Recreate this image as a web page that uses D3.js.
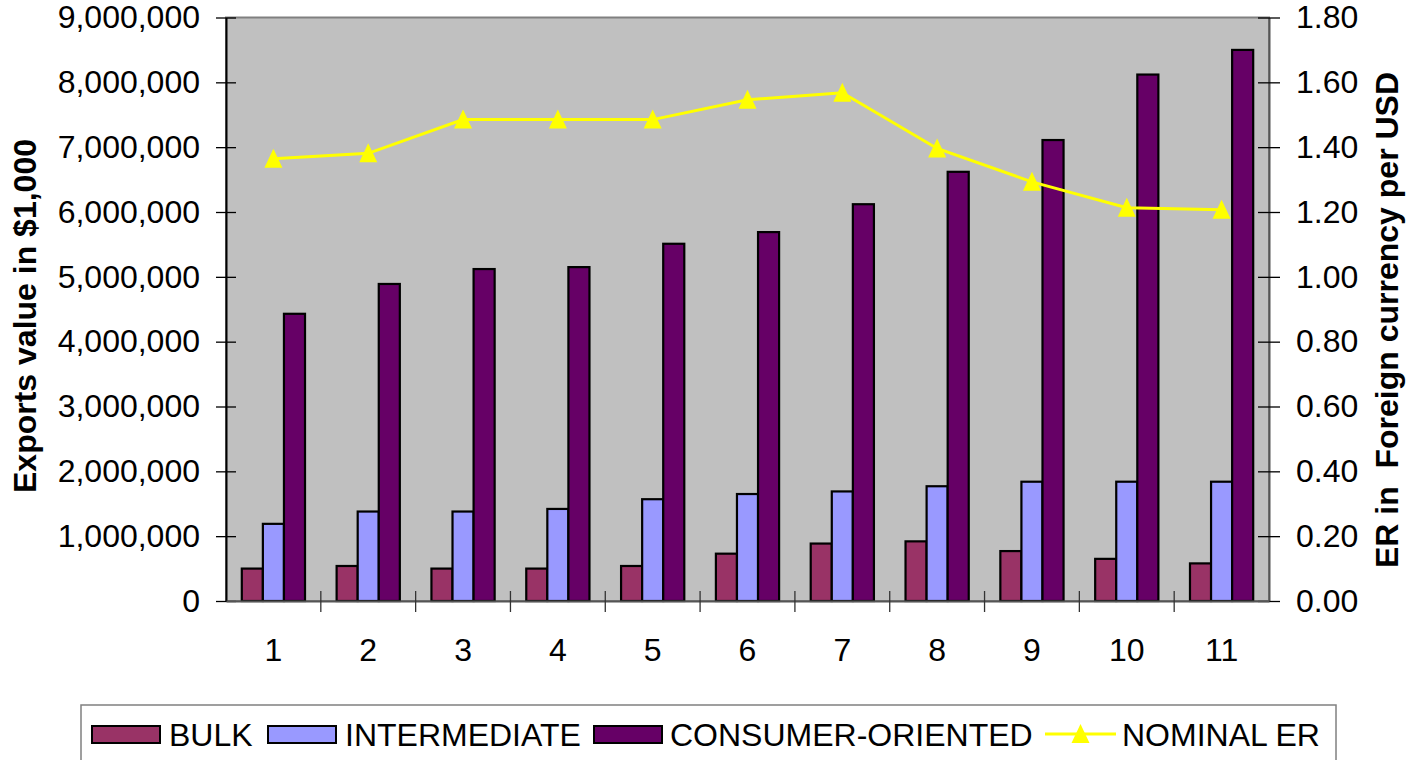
<!DOCTYPE html>
<html>
<head>
<meta charset="utf-8">
<script src="https://cdn.jsdelivr.net/npm/d3@7"></script>
<style>
  html, body { margin: 0; padding: 0; background: #fff; }
  svg { display: block; font-family: "Liberation Sans", Arial, sans-serif; }
</style>
</head>
<body>
<svg id="chart" width="1409" height="760"></svg>
<script>
const categories = ["1","2","3","4","5","6","7","8","9","10","11"];
const bulk = [500000, 540000, 500000, 500000, 540000, 730000, 886000, 920000, 770000, 650000, 580000];
const intermediate = [1190000, 1380000, 1380000, 1420000, 1570000, 1650000, 1690000, 1770000, 1840000, 1840000, 1840000];
const consumer = [4430000, 4890000, 5120000, 5150000, 5510000, 5690000, 6120000, 6620000, 7110000, 8120000, 8500000];
const nominalER = [1.364, 1.381, 1.485, 1.485, 1.485, 1.546, 1.568, 1.396, 1.293, 1.213, 1.207];
const leftTicks = [0, 1000000, 2000000, 3000000, 4000000, 5000000, 6000000, 7000000, 8000000, 9000000];
const rightTicks = [0, 0.2, 0.4, 0.6, 0.8, 1.0, 1.2, 1.4, 1.6, 1.8];
const seriesNames = ["BULK", "INTERMEDIATE", "CONSUMER-ORIENTED"];
const seriesColors = ["#993366", "#9999FF", "#660066"];
const lineName = "NOMINAL ER";
const leftTitle = "Exports value in $1,000";
const rightTitle = "ER in\u00A0 Foreign currency per USD";

const svg = d3.select("#chart");
const plot = { left: 226, top: 17.5, right: 1269, bottom: 601 };

const x = d3.scaleBand().domain(categories).range([plot.left, plot.right]).padding(0);
const xInner = d3.scaleBand().domain(seriesNames).range([0, x.bandwidth()]).paddingInner(0).paddingOuter(0.75);
const yL = d3.scaleLinear().domain([0, 9000000]).range([plot.bottom, plot.top]);
const yR = d3.scaleLinear().domain([0, 1.8]).range([plot.bottom, plot.top]);

// plot area
svg.append("rect")
  .attr("x", plot.left).attr("y", plot.top)
  .attr("width", plot.right - plot.left).attr("height", plot.bottom - plot.top)
  .attr("fill", "#C0C0C0").attr("stroke", "#808080").attr("stroke-width", 2);

// bars
const seriesData = [bulk, intermediate, consumer];
seriesNames.forEach((name, si) => {
  svg.append("g").selectAll("rect")
    .data(seriesData[si])
    .join("rect")
    .attr("x", (d, i) => x(categories[i]) + xInner(name))
    .attr("y", d => yL(d))
    .attr("width", xInner.bandwidth())
    .attr("height", d => yL(0) - yL(d))
    .attr("fill", seriesColors[si])
    .attr("stroke", "#000")
    .attr("stroke-width", 2.2);
});

// axes
const fontSize = 32;
const leftAxis = svg.append("g")
  .attr("transform", `translate(${plot.left},0)`)
  .call(d3.axisLeft(yL).tickValues(leftTicks).tickFormat(d3.format(",")).tickSizeInner(10).tickSizeOuter(0).tickPadding(16));
leftAxis.selectAll(".tick line").attr("x1", 10).attr("stroke", "#000").attr("stroke-width", 1.3);
leftAxis.select(".domain").attr("stroke", "#000").attr("stroke-width", 2);

const rightAxis = svg.append("g")
  .attr("transform", `translate(${plot.right},0)`)
  .call(d3.axisRight(yR).tickValues(rightTicks).tickFormat(d3.format(".2f")).tickSizeInner(11).tickSizeOuter(0).tickPadding(16));
rightAxis.selectAll(".tick line").attr("x1", -11).attr("stroke", "#000").attr("stroke-width", 1.3);
rightAxis.select(".domain").attr("stroke", "#555").attr("stroke-width", 2);

const bottomAxis = svg.append("g")
  .attr("transform", `translate(0,${plot.bottom})`)
  .call(d3.axisBottom(x).tickSizeInner(10).tickSizeOuter(0).tickPadding(27));
bottomAxis.selectAll(".tick line").remove();
bottomAxis.select(".domain").attr("stroke", "#555").attr("stroke-width", 2);
// category separator ticks (crossing)
bottomAxis.append("g").selectAll("line")
  .data(categories.slice(1))
  .join("line")
  .attr("x1", d => x(d)).attr("x2", d => x(d))
  .attr("y1", -10).attr("y2", 11)
  .attr("stroke", "#333").attr("stroke-width", 1.3);

[leftAxis, rightAxis, bottomAxis].forEach(a => {
  a.attr("font-size", null).attr("font-family", null);
  a.selectAll("text").attr("font-size", fontSize).attr("fill", "#000");
});

// axis titles
svg.append("text")
  .attr("transform", `translate(36,316) rotate(-90)`)
  .attr("text-anchor", "middle")
  .attr("font-size", 32).attr("font-weight", "bold")
  .text(leftTitle);
svg.append("text")
  .attr("transform", `translate(1398,320) rotate(-90)`)
  .attr("text-anchor", "middle")
  .attr("font-size", 32).attr("font-weight", "bold")
  .text(rightTitle);

// line series
const line = d3.line()
  .x((d, i) => x(categories[i]) + x.bandwidth() / 2)
  .y(d => yR(d));
svg.append("path")
  .datum(nominalER)
  .attr("d", line)
  .attr("fill", "none")
  .attr("stroke", "#FFFF00")
  .attr("stroke-width", 3);
const tri = (cx, cy, s) => `M${cx},${cy - s / 2 - 1}L${cx + s / 2},${cy + s / 2}L${cx - s / 2},${cy + s / 2}Z`;
svg.append("g").selectAll("path")
  .data(nominalER)
  .join("path")
  .attr("d", (d, i) => tri(x(categories[i]) + x.bandwidth() / 2, yR(d), 18))
  .attr("fill", "#FFFF00");

// legend
const legend = svg.append("g");
legend.append("rect")
  .attr("x", 81).attr("y", 705).attr("width", 1255).attr("height", 80)
  .attr("fill", "#fff").attr("stroke", "#808080").attr("stroke-width", 1.5);
const legendItems = [
  { name: seriesNames[0], sx: 92, tx: 169, type: "bar", color: seriesColors[0] },
  { name: seriesNames[1], sx: 268, tx: 345, type: "bar", color: seriesColors[1] },
  { name: seriesNames[2], sx: 594, tx: 670, type: "bar", color: seriesColors[2] },
  { name: lineName, sx: 1045, tx: 1122, type: "line", color: "#FFFF00" }
];
legendItems.forEach(it => {
  if (it.type === "bar") {
    legend.append("rect")
      .attr("x", it.sx).attr("y", 726).attr("width", 68).attr("height", 17)
      .attr("fill", it.color).attr("stroke", "#000").attr("stroke-width", 2);
  } else {
    legend.append("line")
      .attr("x1", it.sx).attr("x2", it.sx + 71).attr("y1", 734).attr("y2", 734)
      .attr("stroke", it.color).attr("stroke-width", 3);
    legend.append("path")
      .attr("d", tri(it.sx + 35.5, 734, 18))
      .attr("fill", it.color);
  }
  legend.append("text")
    .attr("x", it.tx).attr("y", 746)
    .attr("font-size", fontSize).attr("fill", "#000")
    .text(it.name);
});
</script>
</body>
</html>
